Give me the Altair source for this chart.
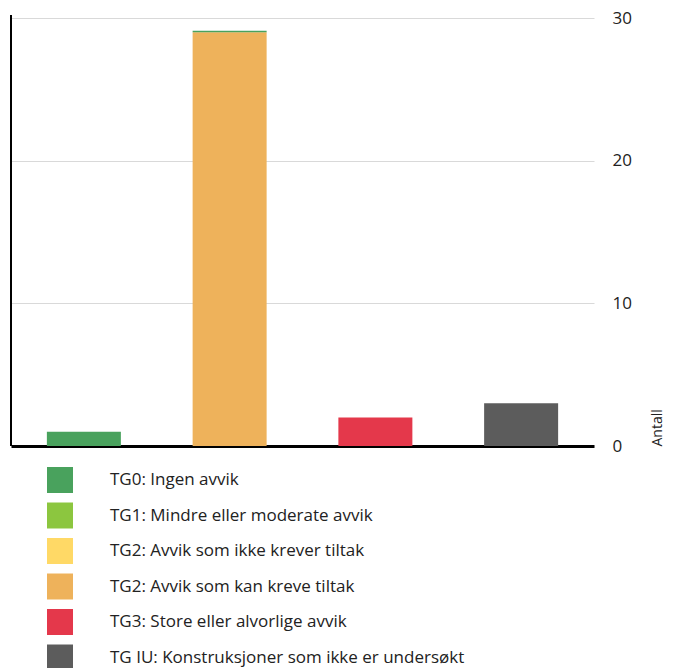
import altair as alt
import pandas as pd

bars = ["A", "B", "B", "C", "D"]
grades = [
    "TG0: Ingen avvik",
    "TG2: Avvik som kan kreve tiltak",
    "TG0: Ingen avvik",
    "TG3: Store eller alvorlige avvik",
    "TG IU: Konstruksjoner som ikke er undersøkt",
]
values = [1, 29, 0.1, 2, 3]
order = [0, 0, 1, 0, 0]

legend_labels = [
    "TG0: Ingen avvik",
    "TG1: Mindre eller moderate avvik",
    "TG2: Avvik som ikke krever tiltak",
    "TG2: Avvik som kan kreve tiltak",
    "TG3: Store eller alvorlige avvik",
    "TG IU: Konstruksjoner som ikke er undersøkt",
]
colors = ["#49a25d", "#8cc63f", "#ffd966", "#eeb25b", "#e4384b", "#5c5c5c"]

df = pd.DataFrame({"bar": bars, "grade": grades, "value": values, "ord": order})

W, H = 583, 428

base = alt.Chart(df).mark_bar(size=74).encode(
    x=alt.X("bar:N", title=None,
            scale=alt.Scale(paddingInner=0.49, paddingOuter=0.245),
            axis=alt.Axis(labels=False, ticks=False, domain=True,
                          domainColor="#000", domainWidth=3)),
    y=alt.Y("value:Q", stack="zero",
            scale=alt.Scale(domain=[0, 30]),
            axis=alt.Axis(orient="right", values=[0, 10, 20, 30], title="Antall",
                          ticks=False, domain=False, labelPadding=18,
                          labelFontSize=17, labelColor="#222", labelFont="Open Sans",
                          gridColor="#d9d9d9", gridWidth=1,
                          titleFontSize=14, titleFontWeight="normal", titleColor="#222",
                          titleFont="Open Sans", titleAnchor="start", titleAngle=270,
                          titlePadding=33, titleAlign="left")),
    color=alt.Color("grade:N", title=None,
                    scale=alt.Scale(domain=legend_labels, range=colors),
                    legend=alt.Legend(orient="none", legendX=36, legendY=449,
                                      symbolType="square", symbolSize=676,
                                      symbolStrokeWidth=0, labelFontSize=17,
                                      labelFont="Open Sans", labelColor="#222",
                                      labelOffset=37, rowPadding=9.5, padding=0,
                                      labelLimit=600)),
    order=alt.Order("ord:Q"),
)

leftline = alt.Chart(df).mark_rule(color="#000", strokeWidth=2).encode(
    x=alt.value(0), y=alt.value(-3), y2=alt.value(H)
)

chart = (base + leftline).properties(
    width=W, height=H,
    padding={"left": 2, "top": 1, "right": 0, "bottom": 0},
).configure_view(stroke=None)

chart.save("out.html", embed_options={"renderer": "svg", "actions": False})
